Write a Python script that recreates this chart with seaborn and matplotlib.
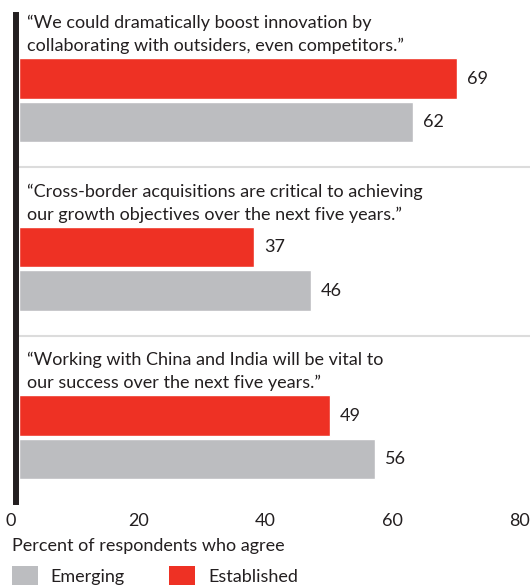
import numpy as np
import pandas as pd
import matplotlib
matplotlib.use("Agg")
import matplotlib.pyplot as plt
import matplotlib.transforms as mtransforms
from matplotlib.patches import Patch
import seaborn as sns

# ---- data ----
questions = [
    "\u201cWe could dramatically boost innovation by\ncollaborating with outsiders, even competitors.\u201d",
    "\u201cCross-border acquisitions are critical to achieving\nour growth objectives over the next five years.\u201d",
    "\u201cWorking with China and India will be vital to\nour success over the next five years.\u201d",
]
series = ["Established", "Emerging"]
established = [69, 37, 49]
emerging = [62, 46, 56]
x_ticks = [0, 20, 40, 60, 80]
x_label = "Percent of respondents who agree"
legend_order = ["Emerging", "Established"]

RED = "#ee3124"
GRAY = "#bcbdc0"
TXT = "#231f20"
palette = {"Established": RED, "Emerging": GRAY}

# ---- layout (slot units) ----
GROUP_STEP = 3.874
rows = []
for g, q in enumerate(questions):
    base = g * GROUP_STEP
    rows.append({"q": g, "series": "Established", "value": established[g], "pos": base})
    rows.append({"q": g, "series": "Emerging", "value": emerging[g], "pos": base + 1.0})
df = pd.DataFrame(rows)

sns.set_theme(style="white")
plt.rcParams["font.family"] = ["Lato", "DejaVu Sans"]
FS = 13

W, H = 530, 587
fig = plt.figure(figsize=(W / 100, H / 100), dpi=100)
ax_left, ax_right, ax_top, ax_bot = 19, 530, 15, 502
ax = fig.add_axes([ax_left / W, 1 - ax_bot / H, (ax_right - ax_left) / W, (ax_bot - ax_top) / H])

sns.barplot(data=df, x="value", y="pos", hue="series", palette=palette,
            orient="h", native_scale=True, dodge=False, width=0.94,
            legend=False, ax=ax, saturation=1)

px_per_unit = 6.355
ax.set_xlim(0, (ax_right - ax_left) / px_per_unit)
slot_px = 43.5
y_top = (ax_top - 78.5) / slot_px
y_bot = (ax_bot - 78.5) / slot_px
ax.set_ylim(y_bot, y_top)

# value labels
for cont in ax.containers:
    ax.bar_label(cont, padding=7, fontsize=FS, color=TXT)

# question texts
for g, q in enumerate(questions):
    base = g * GROUP_STEP
    l1, l2 = q.split("\n")
    ax.text(1.25, base - 1.16, l1, fontsize=FS, color=TXT, va="baseline", ha="left")
    ax.text(1.25, base - 0.63, l2, fontsize=FS, color=TXT, va="baseline", ha="left")

# separators
for g in range(1, len(questions)):
    ax.axhline(g * GROUP_STEP - 1.83, color="#dcdcdc", lw=1.5, zorder=0)

# spines
for s in ["top", "right", "bottom"]:
    ax.spines[s].set_visible(False)
ax.spines["left"].set_color(TXT)
ax.spines["left"].set_linewidth(4.3)
ax.spines["left"].set_position(("outward", 2.2))

ax.set_yticks([])
ax.set_ylabel("")
ax.set_xlabel("")
ax.set_xticks(x_ticks)
ax.set_xticklabels([str(t) for t in x_ticks], fontsize=FS, color=TXT)
ax.tick_params(axis="x", length=0, pad=8)
off = mtransforms.ScaledTranslation(-8 / 100, 0, fig.dpi_scale_trans)
for lab in ax.get_xticklabels():
    lab.set_transform(lab.get_transform() + off)
    lab.set_clip_on(False)

fig.text(12 / W, 1 - 546 / H, x_label, fontsize=FS, color=TXT, va="center", ha="left")

handles = [Patch(facecolor=palette[s], edgecolor="none", label=s) for s in legend_order]
leg = fig.legend(handles=handles, loc="upper left", bbox_to_anchor=(12 / W, 1 - 566 / H),
                 ncol=2, frameon=False, fontsize=FS, borderpad=0, borderaxespad=0,
                 handlelength=1.45, handleheight=1.25, handletextpad=0.7, columnspacing=2.45)
for t in leg.get_texts():
    t.set_color(TXT)

fig.savefig("out.png", dpi=100)
